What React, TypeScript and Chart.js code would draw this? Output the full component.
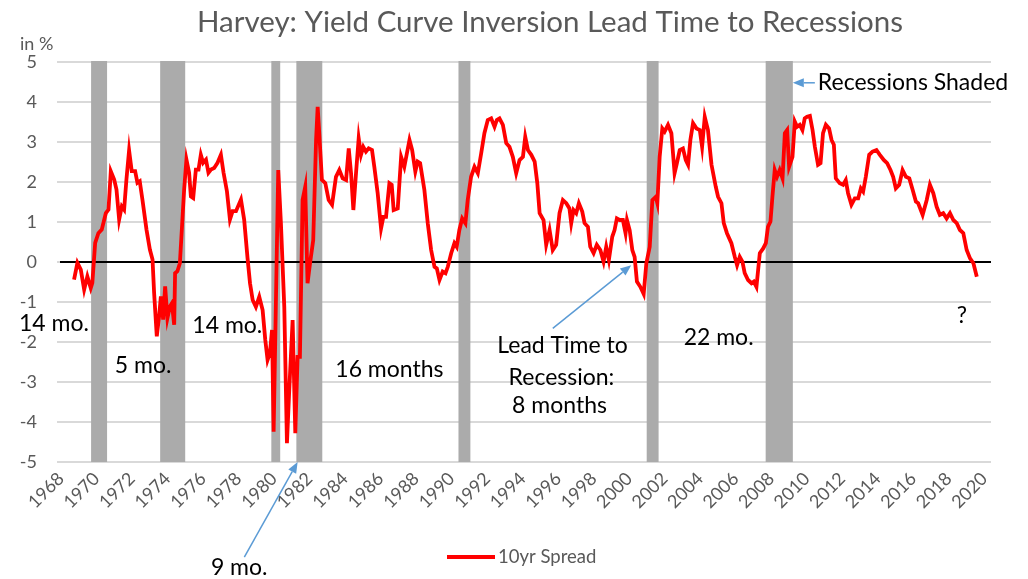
import React, { useEffect, useRef } from "react";
import { Chart, registerables } from "chart.js";

Chart.register(...registerables);

// ---- Data ----
const years = [
  1968.96, 1969.15, 1969.34, 1969.53, 1969.71, 1969.90, 1969.99, 1970.15, 1970.33, 1970.52,
  1970.75, 1970.90, 1971.03, 1971.22, 1971.35, 1971.50, 1971.65, 1971.78, 1971.91, 1972.06,
  1972.21, 1972.40, 1972.53, 1972.66, 1972.81, 1973.04, 1973.23, 1973.38, 1973.47, 1973.62,
  1973.75, 1973.85, 1973.98, 1974.09, 1974.22, 1974.36, 1974.47, 1974.60, 1974.65, 1974.78,
  1974.92, 1975.03, 1975.16, 1975.29, 1975.44, 1975.54, 1975.67, 1975.82, 1975.97, 1976.10,
  1976.23, 1976.39, 1976.53, 1976.67, 1976.85, 1977.04, 1977.23, 1977.38, 1977.57, 1977.74,
  1977.89, 1978.08, 1978.36, 1978.54, 1978.73, 1978.87, 1979.02, 1979.20, 1979.39, 1979.58,
  1979.73, 1979.86, 1979.99, 1980.11, 1980.20, 1980.46, 1980.61, 1980.80, 1980.95, 1981.08,
  1981.27, 1981.42, 1981.55, 1981.68, 1981.83, 1981.98, 1982.11, 1982.25, 1982.43, 1982.59,
  1982.68, 1982.77, 1982.92, 1983.11, 1983.30, 1983.49, 1983.71, 1983.90, 1984.09, 1984.28,
  1984.43, 1984.56, 1984.69, 1984.84, 1984.99, 1985.12, 1985.25, 1985.40, 1985.55, 1985.74,
  1985.87, 1986.06, 1986.25, 1986.38, 1986.53, 1986.72, 1986.85, 1986.96, 1987.19, 1987.38,
  1987.56, 1987.85, 1988.00, 1988.18, 1988.31, 1988.45, 1988.69, 1988.88, 1989.07, 1989.26,
  1989.39, 1989.54, 1989.72, 1989.88, 1990.01, 1990.20, 1990.38, 1990.51, 1990.66, 1990.82,
  1991.00, 1991.13, 1991.32, 1991.51, 1991.70, 1991.89, 1992.07, 1992.26, 1992.45, 1992.64,
  1992.77, 1992.92, 1993.11, 1993.30, 1993.48, 1993.67, 1993.86, 1994.05, 1994.24, 1994.37,
  1994.52, 1994.71, 1994.90, 1995.05, 1995.18, 1995.40, 1995.55, 1995.74, 1995.92, 1996.11,
  1996.30, 1996.49, 1996.68, 1996.86, 1996.96, 1997.09, 1997.24, 1997.39, 1997.58, 1997.71,
  1997.90, 1998.03, 1998.22, 1998.40, 1998.60, 1998.78, 1998.93, 1999.08, 1999.27, 1999.40,
  1999.53, 1999.68, 1999.87, 2000.02, 2000.10, 2000.25, 2000.40, 2000.53, 2000.66, 2000.85,
  2001.04, 2001.19, 2001.38, 2001.53, 2001.72, 2001.81, 2001.94, 2002.09, 2002.22, 2002.41,
  2002.60, 2002.78, 2002.91, 2003.07, 2003.25, 2003.41, 2003.54, 2003.67, 2003.82, 2004.01,
  2004.20, 2004.33, 2004.48, 2004.66, 2004.86, 2005.10, 2005.23, 2005.42, 2005.55, 2005.73,
  2005.98, 2006.17, 2006.30, 2006.45, 2006.60, 2006.73, 2006.92, 2007.11, 2007.24, 2007.39,
  2007.58, 2007.77, 2007.92, 2008.04, 2008.18, 2008.29, 2008.42, 2008.55, 2008.70, 2008.86,
  2008.99, 2009.12, 2009.23, 2009.42, 2009.55, 2009.68, 2009.83, 2009.98, 2010.11, 2010.24,
  2010.40, 2010.55, 2010.68, 2010.86, 2011.00, 2011.14, 2011.30, 2011.48, 2011.62, 2011.75,
  2011.86, 2012.08, 2012.27, 2012.42, 2012.55, 2012.74, 2012.93, 2013.12, 2013.27, 2013.40,
  2013.55, 2013.74, 2013.93, 2014.15, 2014.34, 2014.56, 2014.75, 2014.94, 2015.09, 2015.24,
  2015.43, 2015.62, 2015.81, 2016.00, 2016.19, 2016.37, 2016.50, 2016.75, 2016.98, 2017.16,
  2017.35, 2017.54, 2017.72, 2017.91, 2018.10, 2018.29, 2018.48, 2018.67, 2018.85, 2019.04,
  2019.23, 2019.42, 2019.61, 2019.80,
];

const spread = [
  -0.44, -0.02, -0.19, -0.69, -0.36, -0.65, -0.52, 0.48, 0.72, 0.81,
  1.22, 1.31, 2.27, 2.06, 1.81, 1.06, 1.39, 1.31, 2.06, 2.79,
  2.27, 2.27, 1.98, 2.02, 1.56, 0.81, 0.31, 0.06, -0.78, -1.86,
  -1.36, -0.86, -1.44, -0.61, -1.40, -1.11, -1.03, -1.57, -0.28, -0.23,
  -0.03, 0.81, 1.81, 2.56, 2.23, 1.64, 1.60, 2.31, 2.31, 2.68,
  2.48, 2.56, 2.23, 2.31, 2.35, 2.48, 2.68, 2.23, 1.77, 1.06,
  1.27, 1.27, 1.56, 1.06, 0.10, -0.53, -0.95, -1.12, -0.87, -1.20,
  -1.95, -2.45, -2.28, -1.70, -4.24, 2.30, 0.97, -1.12, -4.53, -3.20,
  -1.45, -4.28, -2.37, -2.37, 1.55, 1.88, -0.53, -0.03, 0.55, 3.05,
  3.88, 3.22, 2.05, 1.97, 1.55, 1.43, 2.13, 2.30, 2.09, 2.05,
  2.84, 2.22, 1.30, 2.22, 3.09, 2.68, 2.88, 2.76, 2.84, 2.80,
  2.38, 1.72, 0.84, 1.13, 1.13, 1.97, 1.93, 1.30, 1.34, 2.63,
  2.38, 3.05, 2.80, 2.26, 2.51, 2.47, 1.80, 0.97, 0.30, -0.12,
  -0.16, -0.45, -0.24, -0.28, -0.12, 0.22, 0.47, 0.38, 0.80, 1.09,
  0.97, 1.55, 2.13, 2.38, 2.22, 2.72, 3.22, 3.55, 3.59, 3.38,
  3.55, 3.59, 3.43, 2.97, 2.88, 2.63, 2.22, 2.55, 2.63, 3.13,
  2.80, 2.68, 2.51, 1.97, 1.22, 1.05, 0.43, 0.80, 0.30, 0.43,
  1.22, 1.55, 1.47, 1.34, 0.97, 1.30, 1.22, 1.47, 1.26, 0.97,
  0.88, 0.38, 0.22, 0.43, 0.30, 0.01, 0.38, 0.05, 0.63, 0.80,
  1.09, 1.05, 1.05, 0.72, 1.05, 0.80, 0.30, 0.13, -0.49, -0.62,
  -0.80, -0.03, 0.38, 1.55, 1.63, 1.47, 2.63, 3.34, 3.26, 3.43,
  3.22, 2.22, 2.47, 2.80, 2.84, 2.55, 2.43, 3.05, 3.47, 3.34,
  3.30, 2.88, 3.63, 3.30, 2.43, 1.88, 1.63, 1.47, 0.97, 0.72,
  0.47, 0.13, -0.08, 0.13, 0.01, -0.28, -0.45, -0.53, -0.49, -0.62,
  0.22, 0.34, 0.47, 0.88, 1.01, 1.63, 2.30, 2.13, 2.30, 2.09,
  3.22, 3.30, 2.38, 2.63, 3.51, 3.38, 3.43, 3.30, 3.59, 3.63,
  3.65, 3.30, 2.88, 2.43, 2.47, 3.22, 3.43, 3.34, 3.05, 2.93,
  2.09, 1.97, 1.93, 2.05, 1.72, 1.43, 1.59, 1.59, 1.84, 1.76,
  2.13, 2.68, 2.76, 2.80, 2.68, 2.55, 2.47, 2.30, 2.13, 1.84,
  1.93, 2.30, 2.13, 2.09, 1.80, 1.51, 1.47, 1.18, 1.55, 1.93,
  1.72, 1.38, 1.18, 1.22, 1.09, 1.22, 1.05, 0.97, 0.80, 0.72,
  0.30, 0.09, -0.03, -0.37,
];

const recessionStart = [1969.92, 1973.81, 1980.07, 1981.48, 1990.61, 2001.21, 2007.91];
const recessionEnd = [1970.82, 1975.22, 1980.57, 1982.94, 1991.28, 2001.88, 2009.44];

const xTickYears = [
  1968, 1970, 1972, 1974, 1976, 1978, 1980, 1982, 1984, 1986, 1988, 1990, 1992, 1994,
  1996, 1998, 2000, 2002, 2004, 2006, 2008, 2010, 2012, 2014, 2016, 2018, 2020,
];
const yTickValues = [-5, -4, -3, -2, -1, 0, 1, 2, 3, 4, 5];

const titleText = "Harvey: Yield Curve Inversion Lead Time to Recessions";
const unitText = "in %";
const seriesName = "10yr Spread";

// annotation texts placed in data coordinates (year, %)
const notes = [
  { text: "14 mo.", x: 1967.83, y: -1.53 },
  { text: "5 mo.", x: 1972.85, y: -2.58 },
  { text: "14 mo.", x: 1977.59, y: -1.6 },
  { text: "16 months", x: 1986.72, y: -2.68 },
  { text: "Lead Time to", x: 1996.47, y: -2.1 },
  { text: "Recession:", x: 1996.41, y: -2.9 },
  { text: "8 months", x: 1996.3, y: -3.58 },
  { text: "22 mo.", x: 2005.26, y: -1.9 },
  { text: "?", x: 2018.96, y: -1.35 },
  { text: "9 mo.", x: 1978.26, y: -7.65 },
];
const shadedNote = { text: "Recessions Shaded", x: 2010.85, y: 4.48 };
const arrows = [
  { x1: 1978.55, y1: -7.38, x2: 1981.55, y2: -5.0 },
  { x1: 1995.92, y1: -1.66, x2: 2000.34, y2: -0.08 },
  { x1: 2010.68, y1: 4.48, x2: 2009.44, y2: 4.48 },
];

const FONT = "Lato, 'Noto Sans', sans-serif";

function drawArrow(ctx: CanvasRenderingContext2D, x1: number, y1: number, x2: number, y2: number) {
  const ang = Math.atan2(y2 - y1, x2 - x1);
  const L = 11;
  const W = 4.5;
  const bx = x2 - L * Math.cos(ang);
  const by = y2 - L * Math.sin(ang);
  ctx.beginPath();
  ctx.moveTo(x1, y1);
  ctx.lineTo(bx, by);
  ctx.stroke();
  ctx.beginPath();
  ctx.moveTo(x2, y2);
  ctx.lineTo(bx + W * Math.sin(ang), by - W * Math.cos(ang));
  ctx.lineTo(bx - W * Math.sin(ang), by + W * Math.cos(ang));
  ctx.closePath();
  ctx.fill();
}

const overlayPlugin = {
  id: "overlay",
  beforeDatasetsDraw(chart: any) {
    const { ctx, chartArea: a, scales } = chart;
    const xs = scales.x;
    const ys = scales.y;
    ctx.save();
    ctx.fillStyle = "#ababab";
    const top = ys.getPixelForValue(5);
    const bottom = ys.getPixelForValue(-5);
    recessionStart.forEach((s, i) => {
      const x0 = xs.getPixelForValue(s);
      const x1 = xs.getPixelForValue(recessionEnd[i]);
      ctx.fillRect(x0, top - 1, x1 - x0, bottom - top + 1);
    });
    // zero line
    const y0 = Math.round(ys.getPixelForValue(0));
    ctx.strokeStyle = "#000000";
    ctx.lineWidth = 2;
    ctx.beginPath();
    ctx.moveTo(a.left + 3, y0);
    ctx.lineTo(a.right, y0);
    ctx.stroke();
    ctx.restore();
  },
  afterDraw(chart: any) {
    const { ctx, scales } = chart;
    const xs = scales.x;
    const ys = scales.y;
    ctx.save();
    // title
    ctx.fillStyle = "#595959";
    ctx.font = `29.5px ${FONT}`;
    ctx.textAlign = "center";
    ctx.textBaseline = "alphabetic";
    ctx.fillText(titleText, 550, 32);
    // unit label
    ctx.font = `18px ${FONT}`;
    ctx.textAlign = "left";
    ctx.fillText(unitText, 20, 50);
    // notes
    ctx.fillStyle = "#000000";
    ctx.font = `23px ${FONT}`;
    ctx.textAlign = "center";
    ctx.textBaseline = "middle";
    notes.forEach((n) => {
      ctx.fillText(n.text, xs.getPixelForValue(n.x), ys.getPixelForValue(n.y));
    });
    ctx.textAlign = "left";
    ctx.fillText(shadedNote.text, xs.getPixelForValue(shadedNote.x), ys.getPixelForValue(shadedNote.y));
    // arrows
    ctx.strokeStyle = "#5b9bd5";
    ctx.fillStyle = "#5b9bd5";
    ctx.lineWidth = 1.5;
    arrows.forEach((r) => {
      drawArrow(
        ctx,
        xs.getPixelForValue(r.x1),
        ys.getPixelForValue(r.y1),
        xs.getPixelForValue(r.x2),
        ys.getPixelForValue(r.y2)
      );
    });
    // legend
    ctx.strokeStyle = "#ff0000";
    ctx.lineWidth = 4;
    ctx.beginPath();
    ctx.moveTo(447, 557);
    ctx.lineTo(495, 557);
    ctx.stroke();
    ctx.fillStyle = "#595959";
    ctx.font = `18.5px ${FONT}`;
    ctx.textAlign = "left";
    ctx.textBaseline = "middle";
    ctx.fillText(seriesName, 498, 557);
    ctx.restore();
  },
};

export default function App() {
  const ref = useRef<HTMLCanvasElement>(null);

  useEffect(() => {
    document.body.style.margin = "0";
    const canvas = ref.current;
    if (!canvas) return;
    const chart = new Chart(canvas, {
      type: "line",
      data: {
        datasets: [
          {
            label: seriesName,
            data: years.map((x, i) => ({ x, y: spread[i] })),
            borderColor: "#ff0000",
            backgroundColor: "#ff0000",
            borderWidth: 3.8,
            pointRadius: 0,
            tension: 0,
            fill: false,
          },
        ],
      },
      options: {
        responsive: false,
        animation: false,
        devicePixelRatio: 1,
        layout: { padding: { top: 62, right: 37, left: 0, bottom: 0 } },
        plugins: {
          legend: { display: false },
          title: { display: false },
          tooltip: { enabled: false },
        },
        scales: {
          x: {
            type: "linear",
            min: 1968,
            max: 2020.6,
            grid: { display: false, drawTicks: false },
            border: { display: false },
            afterBuildTicks: (s: any) => {
              s.ticks = xTickYears.map((v) => ({ value: v }));
            },
            afterFit: (s: any) => {
              s.height = 117;
            },
            ticks: {
              autoSkip: false,
              minRotation: 45,
              maxRotation: 45,
              padding: 6,
              labelOffset: 4,
              color: "#595959",
              font: { family: FONT, size: 18 },
              callback: (v: any) => String(v),
            },
          },
          y: {
            type: "linear",
            min: -5,
            max: 5,
            afterBuildTicks: (s: any) => {
              s.ticks = yTickValues.map((v) => ({ value: v }));
            },
            afterFit: (s: any) => {
              s.width = 57;
            },
            grid: { color: "#d9d9d9", lineWidth: 2, drawTicks: false },
            border: { display: false },
            ticks: {
              padding: 20,
              color: "#595959",
              font: { family: FONT, size: 18 },
              callback: (v: any) => String(v),
            },
          },
        },
      },
      plugins: [overlayPlugin],
    });
    return () => chart.destroy();
  }, []);

  return <canvas ref={ref} width={1028} height={579} style={{ display: "block" }} />;
}
